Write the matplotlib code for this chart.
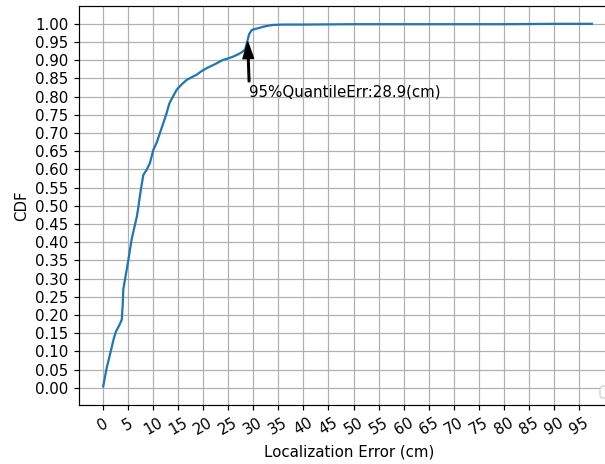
import numpy as np
import matplotlib
matplotlib.use("Agg")
import matplotlib.pyplot as plt

# Empirical CDF of localization error (cm)
err_cm = [0.1, 0.8, 1.6, 2.2, 2.65, 3.3, 3.8, 4.0, 4.1, 4.6, 5.1, 5.5, 5.8,
          6.3, 6.8, 7.1, 7.3, 7.6, 8.1, 8.8, 9.4, 10.1, 10.8, 11.4, 12.1,
          12.75, 13.3, 14.0, 14.75, 15.7, 16.75, 17.7, 18.7, 19.7, 20.7,
          21.6, 22.5, 23.3, 24.0, 25.0, 26.0, 26.8, 27.5, 28.0, 28.4, 28.7,
          28.9, 29.2, 29.7, 30.4, 31.0, 32.0, 33.0, 34.0, 36.0, 40.0, 50.0,
          60.0, 70.0, 80.0, 90.0, 97.5]
cdf = [0.004, 0.055, 0.100, 0.135, 0.155, 0.172, 0.187, 0.230, 0.270, 0.310,
       0.350, 0.385, 0.410, 0.440, 0.470, 0.495, 0.516, 0.544, 0.585, 0.600,
       0.617, 0.654, 0.675, 0.700, 0.728, 0.755, 0.782, 0.800, 0.819, 0.833,
       0.846, 0.853, 0.860, 0.870, 0.878, 0.884, 0.890, 0.896, 0.901, 0.905,
       0.910, 0.915, 0.920, 0.925, 0.930, 0.945, 0.956, 0.972, 0.983, 0.986,
       0.988, 0.992, 0.995, 0.997, 0.998, 0.998, 0.999, 0.999, 0.999, 0.999,
       1.000, 1.000]

q95_err = 28.9
q95_level = 0.95

x_ticks = np.arange(0, 100, 5)
y_ticks = np.arange(0, 1.0001, 0.05)

DPI = 108
fig = plt.figure(figsize=(605 / DPI, 464 / DPI), dpi=DPI)
ax = fig.add_axes([79 / 605, 59 / 464, 540 / 605, 399 / 464])

ax.plot(err_cm, cdf, color="C0", linewidth=1.5)

ax.annotate(f"95%QuantileErr:{q95_err}(cm)",
            xy=(q95_err, q95_level), xytext=(q95_err + 0.3, 0.80),
            arrowprops=dict(facecolor="black", edgecolor="black",
                            width=1, headwidth=7, headlength=11, shrink=0.0))

ax.set_xlim(-4.72, 102.9)
ax.set_ylim(-0.047, 1.049)
ax.set_xticks(x_ticks)
ax.set_yticks(y_ticks)
ax.set_yticklabels([f"{v:.2f}" for v in y_ticks])
plt.setp(ax.get_xticklabels(), rotation=30)
ax.grid(True)
ax.set_xlabel("Localization Error (cm)")
ax.set_ylabel("CDF")
ax.legend(handles=[], loc="lower right")

fig.savefig("out.png", dpi=DPI)
